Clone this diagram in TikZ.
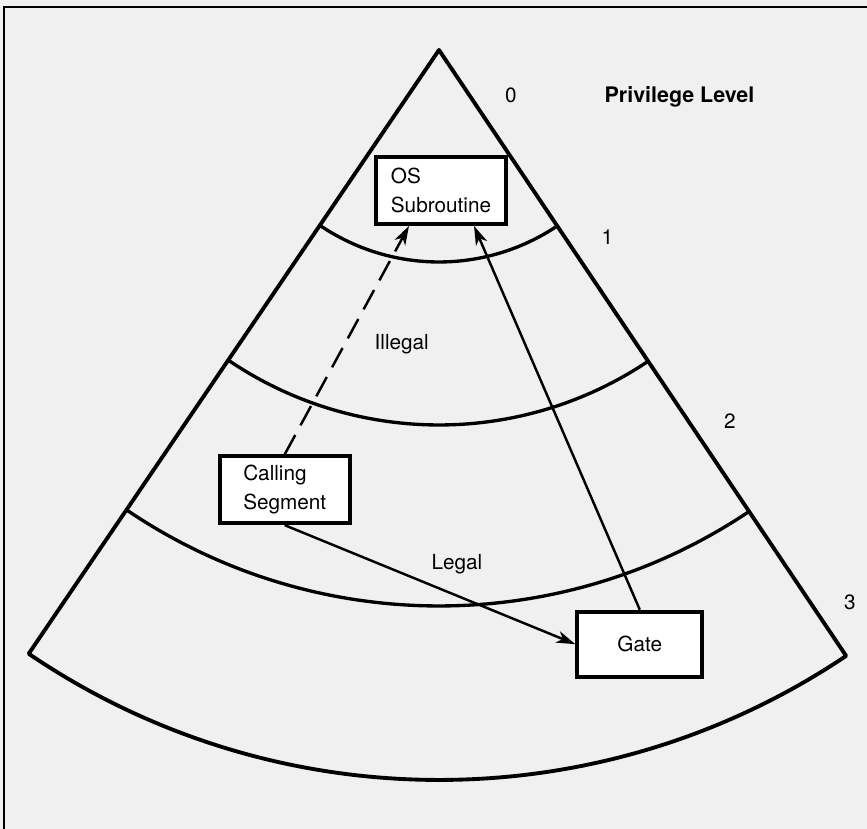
\documentclass[tikz,border=0pt]{standalone}
\usepackage{fontspec}
\setmainfont{TeX Gyre Heros}
\usetikzlibrary{arrows.meta}
\begin{document}
\begin{tikzpicture}[x=2cm,y=2cm,font=\fontsize{11.8}{16.5}\selectfont,
  >={Stealth[length=0.38cm,width=0.24cm,inset=0.11cm]},
  box/.style={draw,line width=2.2pt,fill=white,align=left,minimum width=2.6cm,minimum height=1.34cm,inner sep=0pt},
  ring/.style={line width=1.9pt},
  link/.style={line width=1.4pt},
  lbl/.style={anchor=base,inner sep=0pt}]
  \fill[black!6] (-4.39,0.5) rectangle (4.28,-7.79);
  \useasboundingbox (-4.39,0.5) rectangle (4.28,-7.79);
  \draw[line width=1.2pt] (-4.35,-7.79) -- (-4.35,0.43) -- (4.28,0.43);
  \draw[line width=2.2pt,line join=round] (0,0) -- (235.8:7.3) arc[start angle=235.8,end angle=303.9,radius=7.3] -- cycle;
  \foreach \r in {2.12,3.75,5.56}
    \draw[ring] (235.8:\r) arc[start angle=235.8,end angle=303.9,radius=\r];
  \node[box] (os) at (0.02,-1.405) {OS\\Subroutine};
  \node[box] (calling) at (-1.5425,-4.3975) {Calling\\Segment};
  \node[box,minimum width=2.5cm,minimum height=1.3cm] (gate) at (2.008,-5.942) {Gate};
  \draw[link,dash pattern=on 0.44cm off 0.22cm,->] (calling.north) -- ([xshift=-0.64cm]os.south);
  \draw[link,->] (gate.north) -- ([xshift=0.66cm]os.south);
  \draw[link,->] (calling.south) -- (gate.west);
  \node[lbl] (lvl0) at (0.72,-0.527) {0};
  \node[lbl,font=\fontsize{12.2}{14}\selectfont\bfseries] (title) at (2.405,-0.527) {Privilege Level};
  \node[lbl] (lvl1) at (1.683,-1.95) {1};
  \node[lbl] (lvl2) at (2.91,-3.79) {2};
  \node[lbl] (lvl3) at (4.11,-5.593) {3};
  \node[lbl] (illegal) at (-0.373,-3.0) {Illegal};
  \node[lbl] (legal) at (0.18,-5.2) {Legal};
\end{tikzpicture}
\end{document}
